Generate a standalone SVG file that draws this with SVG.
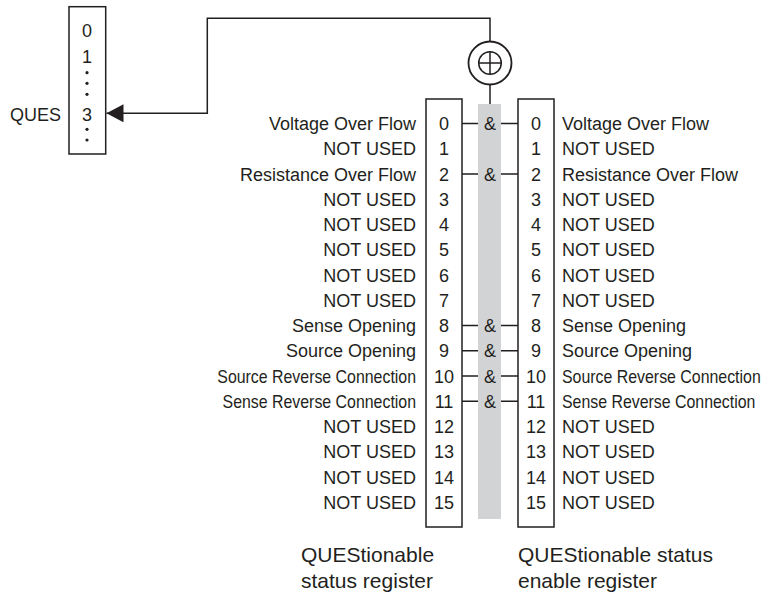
<svg xmlns="http://www.w3.org/2000/svg" width="763" height="592" viewBox="0 0 763 592">
<style>
text{font-family:"Liberation Sans",Arial,sans-serif;font-size:18px;fill:#231f20}
.l{text-anchor:end}
.c{text-anchor:middle}
.n{font-size:15.9px}
.box{fill:#fff;stroke:#231f20;stroke-width:1.5}
.ln{fill:none;stroke:#231f20;stroke-width:1.5}
.big{font-size:21px}
</style>
<defs>
<marker id="arr" markerWidth="18" markerHeight="18" refX="17" refY="9" orient="auto" markerUnits="userSpaceOnUse">
<path d="M0,0 L17,9 L0,18 Z" fill="#231f20"/>
</marker>
</defs>

<g id="connectors">
<path class="ln" d="M490,41.5 V18.3 H207.3 V113.3 H106.5" marker-end="url(#arr)"/>
<line class="ln" x1="490" y1="84.5" x2="490" y2="104"/>
<g id="and-lines">
<path class="ln" d="M462,123.5 H478 M501,123.5 H518"/>
<path class="ln" d="M462,174 H478 M501,174 H518"/>
<path class="ln" d="M462,325.5 H478 M501,325.5 H518"/>
<path class="ln" d="M462,350.75 H478 M501,350.75 H518"/>
<path class="ln" d="M462,376 H478 M501,376 H518"/>
<path class="ln" d="M462,401.25 H478 M501,401.25 H518"/>
</g>
</g>

<g id="ques-summary">
<rect class="box" x="69" y="6.7" width="36.7" height="147.3"/>
<text class="c" x="87" y="36.5">0</text>
<text class="c" x="87" y="62.5">1</text>
<circle cx="87" cy="72.7" r="1.6" fill="#231f20"/>
<circle cx="87" cy="83.3" r="1.6" fill="#231f20"/>
<circle cx="87" cy="94.3" r="1.6" fill="#231f20"/>
<text class="c" x="87" y="120.5">3</text>
<circle cx="87" cy="129.3" r="1.6" fill="#231f20"/>
<circle cx="87" cy="140" r="1.6" fill="#231f20"/>
<text class="l" x="61" y="120.5">QUES</text>
</g>

<g id="or-gate">
<circle class="ln" cx="490" cy="63" r="21.5" style="stroke-width:1.8"/>
<circle class="ln" cx="490" cy="63" r="11.3"/>
<path class="ln" d="M478.7,63 H501.3 M490,51.7 V74.3"/>
</g>

<g id="and-bar">
<rect x="478" y="104" width="23" height="415" fill="#d1d3d4"/>
<text class="c" x="490" y="130">&amp;</text>
<text class="c" x="490" y="180.5">&amp;</text>
<text class="c" x="490" y="332">&amp;</text>
<text class="c" x="490" y="357.25">&amp;</text>
<text class="c" x="490" y="382.5">&amp;</text>
<text class="c" x="490" y="407.75">&amp;</text>
</g>

<g id="status-register">
<rect class="box" x="426" y="99" width="36" height="428"/>
<text class="c" x="444" y="130">0</text>
<text class="c" x="444" y="155.25">1</text>
<text class="c" x="444" y="180.5">2</text>
<text class="c" x="444" y="205.75">3</text>
<text class="c" x="444" y="231">4</text>
<text class="c" x="444" y="256.25">5</text>
<text class="c" x="444" y="281.5">6</text>
<text class="c" x="444" y="306.75">7</text>
<text class="c" x="444" y="332">8</text>
<text class="c" x="444" y="357.25">9</text>
<text class="c" x="444" y="382.5">10</text>
<text class="c" x="444" y="407.75">11</text>
<text class="c" x="444" y="433">12</text>
<text class="c" x="444" y="458.25">13</text>
<text class="c" x="444" y="483.5">14</text>
<text class="c" x="444" y="508.75">15</text>
<text class="l" x="416" y="130">Voltage Over Flow</text>
<text class="l" x="416" y="155.25">NOT USED</text>
<text class="l" x="416" y="180.5">Resistance Over Flow</text>
<text class="l" x="416" y="205.75">NOT USED</text>
<text class="l" x="416" y="231">NOT USED</text>
<text class="l" x="416" y="256.25">NOT USED</text>
<text class="l" x="416" y="281.5">NOT USED</text>
<text class="l" x="416" y="306.75">NOT USED</text>
<text class="l" x="416" y="332">Sense Opening</text>
<text class="l" x="416" y="357.25">Source Opening</text>
<text class="l n" transform="translate(416,382.5) scale(1,1.13)">Source Reverse Connection</text>
<text class="l n" transform="translate(416,407.75) scale(1,1.13)">Sense Reverse Connection</text>
<text class="l" x="416" y="433">NOT USED</text>
<text class="l" x="416" y="458.25">NOT USED</text>
<text class="l" x="416" y="483.5">NOT USED</text>
<text class="l" x="416" y="508.75">NOT USED</text>
<text class="big" x="301" y="561.5">QUEStionable</text>
<text class="big" x="301" y="587.5">status register</text>
</g>

<g id="enable-register">
<rect class="box" x="518" y="99" width="36" height="428"/>
<text class="c" x="536" y="130">0</text>
<text class="c" x="536" y="155.25">1</text>
<text class="c" x="536" y="180.5">2</text>
<text class="c" x="536" y="205.75">3</text>
<text class="c" x="536" y="231">4</text>
<text class="c" x="536" y="256.25">5</text>
<text class="c" x="536" y="281.5">6</text>
<text class="c" x="536" y="306.75">7</text>
<text class="c" x="536" y="332">8</text>
<text class="c" x="536" y="357.25">9</text>
<text class="c" x="536" y="382.5">10</text>
<text class="c" x="536" y="407.75">11</text>
<text class="c" x="536" y="433">12</text>
<text class="c" x="536" y="458.25">13</text>
<text class="c" x="536" y="483.5">14</text>
<text class="c" x="536" y="508.75">15</text>
<text x="562" y="130">Voltage Over Flow</text>
<text x="562" y="155.25">NOT USED</text>
<text x="562" y="180.5">Resistance Over Flow</text>
<text x="562" y="205.75">NOT USED</text>
<text x="562" y="231">NOT USED</text>
<text x="562" y="256.25">NOT USED</text>
<text x="562" y="281.5">NOT USED</text>
<text x="562" y="306.75">NOT USED</text>
<text x="562" y="332">Sense Opening</text>
<text x="562" y="357.25">Source Opening</text>
<text class="n" transform="translate(562,382.5) scale(1,1.13)">Source Reverse Connection</text>
<text class="n" transform="translate(562,407.75) scale(1,1.13)">Sense Reverse Connection</text>
<text x="562" y="433">NOT USED</text>
<text x="562" y="458.25">NOT USED</text>
<text x="562" y="483.5">NOT USED</text>
<text x="562" y="508.75">NOT USED</text>
<text class="big" x="518" y="561.5">QUEStionable status</text>
<text class="big" x="518" y="587.5">enable register</text>
</g>
</svg>
